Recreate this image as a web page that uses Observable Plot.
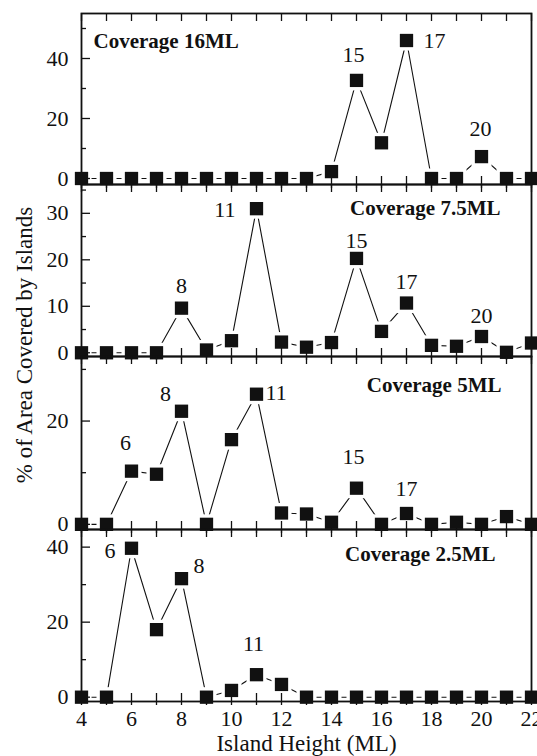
<!DOCTYPE html>
<html><head><meta charset="utf-8">
<script src="https://cdn.jsdelivr.net/npm/d3@7"></script>
<script src="https://cdn.jsdelivr.net/npm/@observablehq/plot@0.6"></script>
<style>
body{margin:0;background:#fff;}
#fig{position:relative;width:537px;height:756px;overflow:hidden;font-family:"Liberation Serif","DejaVu Serif","Times New Roman",Times,serif;color:#111;}
#fig svg{position:absolute;left:0;}
#ytitle{position:absolute;left:24px;top:345px;transform:translate(-50%,-50%) rotate(-90deg);white-space:nowrap;font-size:23px;line-height:1;}
</style></head><body>
<div id="fig"><div id="ytitle">% of Area Covered by Islands</div></div>
<script>
// Island height (ML) categories
const islandHeight = [4,5,6,7,8,9,10,11,12,13,14,15,16,17,18,19,20,21,22];
const xTickLabels = [4,6,8,10,12,14,16,18,20,22];

// % of area covered, per coverage
const cov16 = [0,0,0,0,0,0,0,0,0,0,2.3,32.7,11.9,46,0,0,7.3,0,0];
const cov75 = [0,0,0,0,9.6,0.6,2.6,31,2.3,1.2,2.2,20.3,4.6,10.7,1.6,1.4,3.5,0.1,2.1];
const cov5  = [0,0,10.3,9.7,21.9,0,16.4,25.2,2.2,2.0,0.4,7.0,0,2.1,0,0.4,0,1.5,0];
const cov25 = [0,0,39.7,18.0,31.6,0,1.8,6.0,3.4,0,0,0,0,0,0,0,0,0,0];

// peak labels (island heights)
const peaks16 = [15,17,20];
const peaks75 = [8,11,15,17,20];
const peaks5  = [6,8,11,15,17];
const peaks25 = [6,8,11];

// y tick labels per panel
const yTicks16 = [0,20,40];
const yTicks75 = [0,10,20,30];
const yTicks5  = [0,20];
const yTicks25 = [0,20,40];

const yMinor16 = [10,30,50];
const yMinor75 = [5,15,25,35];
const yMinor5  = [10,30];
const yMinor25 = [10,30];

const titles = ["Coverage 16ML","Coverage 7.5ML","Coverage 5ML","Coverage 2.5ML"];

const FONT = '"Liberation Serif","DejaVu Serif","Times New Roman",Times,serif';
const INK = "#111";
const W = 537, ML = 81, MR = 6, FW = W - ML - MR;

const panels = [
  {values: cov16, peaks: peaks16, major: yTicks16, minor: yMinor16, title: titles[0],
   domain: [-2, 55], frameTop: 13, frameBottom: 184, mb: 13,
   place: [[-3,-25,"middle"],[17,0,"start"],[-1,-28,"middle"]],
   titlePos: {frameAnchor:"top-left", dx: 12, dy: 27.7, textAnchor:"start"}},
  {values: cov75, peaks: peaks75, major: yTicks75, minor: yMinor75, title: titles[1],
   domain: [-0.8, 36.2], frameTop: 184, frameBottom: 356, mb: 13,
   place: [[0,-22,"middle"],[-21,1,"end"],[0,-17,"middle"],[0,-21,"middle"],[0,-21,"middle"]],
   titlePos: {frameAnchor:"top-right", dx: -31, dy: 24, textAnchor:"end"}},
  {values: cov5, peaks: peaks5, major: yTicks5, minor: yMinor5, title: titles[2],
   domain: [-1, 32.5], frameTop: 356, frameBottom: 529, mb: 13,
   place: [[-6,-28,"middle"],[-16,-17,"middle"],[9,-1,"start"],[-3,-31,"middle"],[0,-25,"middle"]],
   titlePos: {frameAnchor:"top-right", dx: -30, dy: 29, textAnchor:"end"}},
  {values: cov25, peaks: peaks25, major: yTicks25, minor: yMinor25, title: titles[3],
   domain: [-1.15, 44.7], frameTop: 529, frameBottom: 701, mb: 55, showX: true,
   place: [[-16,3,"end"],[12,-13,"start"],[-3,-31,"middle"]],
   titlePos: {frameAnchor:"top-right", dx: -36, dy: 24.3, textAnchor:"end"}}
];

const fig = document.getElementById("fig");

for (const p of panels) {
  const mt = 13;
  const fh = p.frameBottom - p.frameTop;
  const data = islandHeight.map((x, i) => ({x, y: p.values[i]}));
  const valueAt = x => p.values[islandHeight.indexOf(x)];
  const marks = [
    Plot.line(data, {x: "x", y: "y", stroke: INK, strokeWidth: 1.1}),
    Plot.dot(data, {x: "x", y: "y", symbol: "square", r: 11.3, fill: "white", stroke: "none"}),
    Plot.frame({stroke: INK, strokeWidth: 1.8}),
    Plot.tickX(islandHeight, {x: d => d, insetBottom: fh - 8, stroke: INK, strokeWidth: 1.3}),
    Plot.tickX(islandHeight, {x: d => d, insetTop: fh - 8, insetBottom: -4, stroke: INK, strokeWidth: 1.3}),
    Plot.tickY(p.major, {y: d => d, insetRight: FW - 9, stroke: INK, strokeWidth: 1.3}),
    Plot.tickY(p.minor, {y: d => d, insetRight: FW - 5, stroke: INK, strokeWidth: 1.3}),
    Plot.dot(data, {x: "x", y: "y", symbol: "square", r: 7.5, fill: INK, stroke: "none"}),
    Plot.axisY({ticks: p.major, tickSize: 0, tickPadding: 13, label: null, fontSize: 22, fill: INK, fontFamily: FONT}),
    Plot.text([p.title], {...p.titlePos, fontSize: 21, fontWeight: "bold", fill: INK, lineAnchor: "middle", fontFamily: FONT})
  ];
  p.peaks.forEach((x, i) => {
    const [dx, dy, anchor] = p.place[i];
    marks.push(Plot.text([x], {x: d => d, y: d => valueAt(d), text: d => String(d),
      dx, dy, textAnchor: anchor, fontSize: 22, fill: INK, lineAnchor: "middle", fontFamily: FONT}));
  });
  if (p.showX) {
    marks.push(Plot.axisX({ticks: xTickLabels, tickSize: 0, tickPadding: 9, label: null, fontSize: 22, fill: INK, fontFamily: FONT}));
    marks.push(Plot.text(["Island Height (ML)"], {frameAnchor: "bottom", dy: 42.5, fontSize: 23, fill: INK, lineAnchor: "middle", fontFamily: FONT}));
  }
  const chart = Plot.plot({
    width: W,
    height: mt + fh + p.mb,
    marginTop: mt, marginBottom: p.mb, marginLeft: ML, marginRight: MR,
    x: {domain: [4, 22], axis: p.showX ? undefined : null},
    y: {domain: p.domain},
    style: {background: "transparent", overflow: "visible", fontFamily: FONT, fontSize: "22px", color: INK},
    marks
  });
  chart.style.top = (p.frameTop - mt) + "px";
  fig.appendChild(chart);
}
</script>
</body></html>
